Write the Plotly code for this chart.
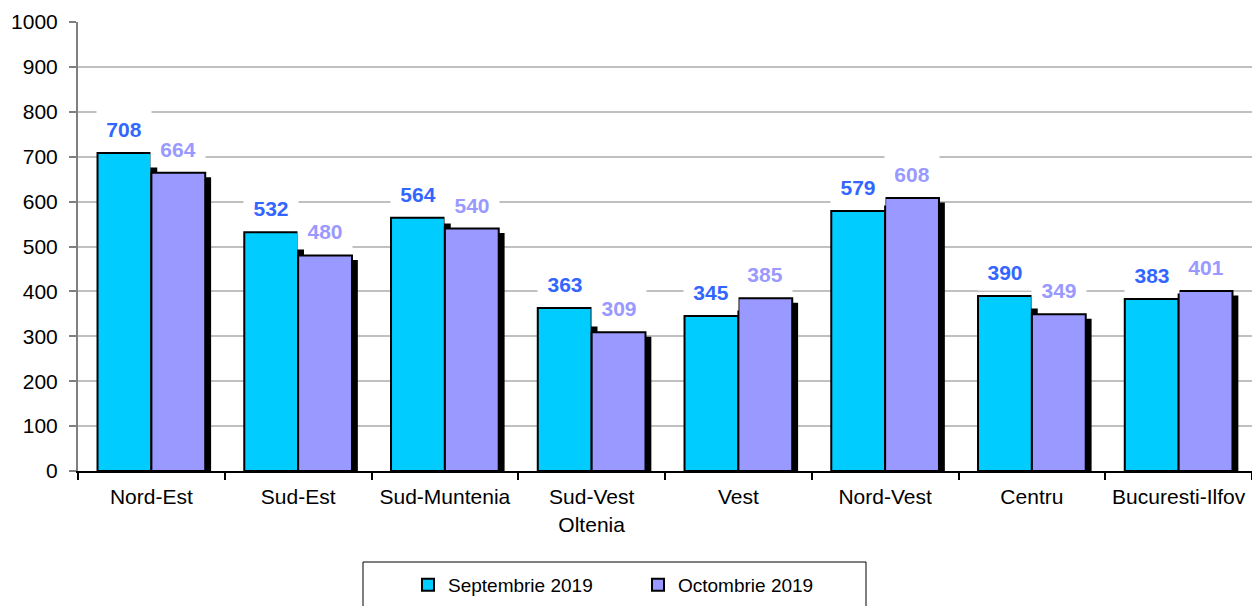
import plotly.graph_objects as go

regions = ["Nord-Est", "Sud-Est", "Sud-Muntenia", "Sud-Vest<br>Oltenia", "Vest",
           "Nord-Vest", "Centru", "Bucuresti-Ilfov"]
sept_2019 = [708, 532, 564, 363, 345, 579, 390, 383]
oct_2019 = [664, 480, 540, 309, 385, 608, 349, 401]
y_ticks = [0, 100, 200, 300, 400, 500, 600, 700, 800, 900, 1000]

FONT = "Liberation Sans, Arial, sans-serif"
C_SEPT = "#00CCFF"
C_OCT = "#9999FF"
L_SEPT = "#3366FF"
L_OCT = "#9999FF"
BW = 0.367
SH_DX = 0.04
SH_DY = 10

fig = go.Figure()
for vals, col, name, off in [(sept_2019, C_SEPT, "Septembrie 2019", -BW),
                             (oct_2019, C_OCT, "Octombrie 2019", 0.0)]:
    fig.add_trace(go.Bar(x=regions, y=[v - SH_DY for v in vals], width=BW, offset=off + SH_DX,
                         marker=dict(color="black", line=dict(width=0)),
                         showlegend=False, hoverinfo="skip"))
    fig.add_trace(go.Bar(x=regions, y=vals, width=BW, offset=off, name=name,
                         marker=dict(color=col, line=dict(color="black", width=2))))

for vals, lc, xs in [(sept_2019, L_SEPT, -27), (oct_2019, L_OCT, 27)]:
    for r, v in zip(regions, vals):
        fig.add_annotation(x=r, y=v, xref="x", yref="y", xshift=xs, yshift=24,
                           text=f"<b>{v}</b>", showarrow=False, bgcolor="white",
                           width=52, height=34, font=dict(family=FONT, size=21, color=lc))

W, H = 1252, 606
L, R, T, B = 78, 0, 22, 135
pw, ph = W - L - R, H - T - B

def px(X):
    return (X - L) / pw

def py(Y):
    return (H - B - Y) / ph

fig.add_shape(type="rect", xref="paper", yref="paper", x0=px(363), x1=px(866),
              y0=py(640), y1=py(562), line=dict(color="black", width=1), fillcolor="rgba(0,0,0,0)")

fig.update_layout(
    width=W, height=H, margin=dict(l=L, r=R, t=T, b=B, autoexpand=False),
    barmode="overlay", plot_bgcolor="white", paper_bgcolor="white",
    font=dict(family=FONT, color="black"),
    showlegend=True,
    legend=dict(orientation="h", x=px(408), xanchor="left", y=py(585), yanchor="middle",
                font=dict(family=FONT, size=19), entrywidth=185, bgcolor="rgba(0,0,0,0)"),
    xaxis=dict(type="category", tickson="boundaries", ticks="outside", ticklen=7,
               tickwidth=2, tickcolor="black", showline=True, linecolor="black", linewidth=2,
               tickfont=dict(family=FONT, size=21), showgrid=False, ticklabelstandoff=6,
               tickangle=0, automargin=False),
    yaxis=dict(range=[0, 1000], tickvals=y_ticks, ticks="outside", ticklen=7, tickwidth=2,
               tickcolor="#808080", showline=True, linecolor="#808080", linewidth=2,
               showgrid=True, gridcolor="#C0C0C0", gridwidth=2, zeroline=False,
               tickfont=dict(family=FONT, size=21), ticklabelstandoff=7, automargin=False),
)

fig.write_html("out.html")
